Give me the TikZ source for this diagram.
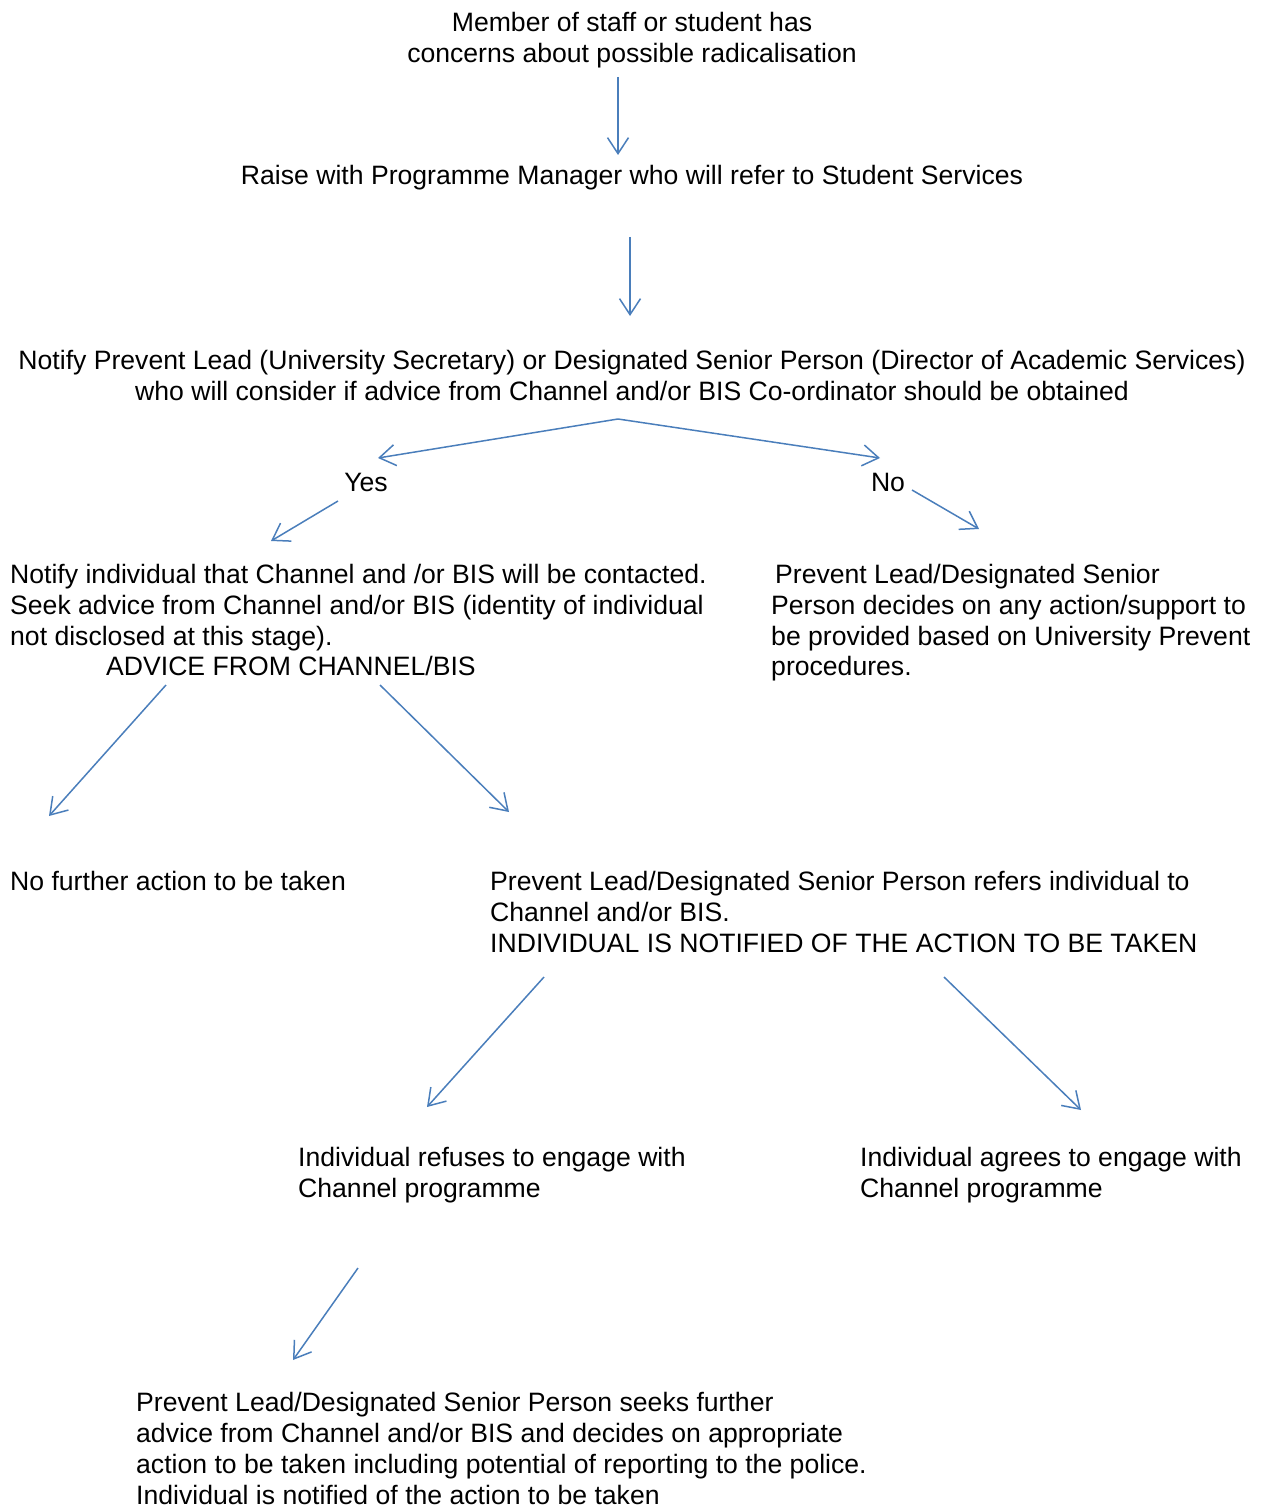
\documentclass[tikz,border=0pt]{standalone}
\usepackage{fontspec}
\setmainfont{Liberation Sans}
\usetikzlibrary{arrows.meta}
\definecolor{arrowblue}{RGB}{74,126,187}
\begin{document}
\begin{tikzpicture}[x=1pt,y=-1pt,
  txt/.style={inner sep=0pt,font=\fontsize{26.6}{30.9}\selectfont},
  blk/.style={txt,align=left,anchor=north west},
  ctr/.style={txt,anchor=base},
  arr/.style={draw=arrowblue,line width=1.5pt,-{Straight Barb[length=16pt,width=21pt,line width=1.5pt]}}]
\useasboundingbox (0,0) rectangle (1266,1506);
% texts
\node[txt,align=center,anchor=north] (t1) at (632,31.5-21.6) {\strut Member of staff or student has\\concerns about possible radicalisation};
\node[ctr] (t2) at (632,185) {Raise with Programme Manager who will refer to Student Services};
\node[txt,align=center,anchor=north] (t3) at (632,369.5-21.6) {\strut Notify Prevent Lead (University Secretary) or Designated Senior Person (Director of Academic Services)\\who will consider if advice from Channel and/or BIS Co-ordinator should be obtained};
\node[ctr] (yes) at (366,491) {Yes};
\node[ctr] (no) at (888,491) {No};
\node[blk] (t4) at (10,583-21.6) {\strut Notify individual that Channel and /or BIS will be contacted.\\Seek advice from Channel and/or BIS (identity of individual\\not disclosed at this stage).\\\hspace*{96pt}ADVICE FROM CHANNEL/BIS};
\node[blk] (t5) at (771,583-21.6) {\strut\hspace*{4pt}Prevent Lead/Designated Senior\\Person decides on any action/support to\\be provided based on University Prevent\\procedures.};
\node[blk] (t6) at (10,890-21.6) {\strut No further action to be taken};
\node[blk] (t7) at (490,890-21.6) {\strut Prevent Lead/Designated Senior Person refers individual to\\Channel and/or BIS.\\INDIVIDUAL IS NOTIFIED OF THE ACTION TO BE TAKEN};
\node[blk] (t8) at (298,1166-21.6) {\strut Individual refuses to engage with\\Channel programme};
\node[blk] (t9) at (860,1166-21.6) {\strut Individual agrees to engage with\\Channel programme};
\node[blk] (t10) at (136,1411.5-21.6) {\strut Prevent Lead/Designated Senior Person seeks further\\advice from Channel and/or BIS and decides on appropriate\\action to be taken including potential of reporting to the police.\\Individual is notified of the action to be taken};
% connector end points
\coordinate (a1s) at (618,77);   \coordinate (a1e) at (618,155);
\coordinate (a2s) at (630,237);  \coordinate (a2e) at (630,316);
\coordinate (apex) at (618,419);
\coordinate (byes) at (378,458); \coordinate (bno) at (880,458);
\coordinate (a3s) at (338,501);  \coordinate (a3e) at (271,541);
\coordinate (a4s) at (912,490);  \coordinate (a4e) at (979,529);
\coordinate (a5s) at (166,685);  \coordinate (a5e) at (49,816);
\coordinate (a6s) at (380,685);  \coordinate (a6e) at (509,812);
\coordinate (a7s) at (544,977);  \coordinate (a7e) at (427,1107);
\coordinate (a8s) at (944,977);  \coordinate (a8e) at (1081,1110);
\coordinate (a9s) at (358,1268); \coordinate (a9e) at (293,1360);
% connectors
\draw[arr] (a1s) -- (a1e);
\draw[arr] (a2s) -- (a2e);
\draw[arr] (apex) -- (byes);
\draw[arr] (apex) -- (bno);
\draw[arr] (a3s) -- (a3e);
\draw[arr] (a4s) -- (a4e);
\draw[arr] (a5s) -- (a5e);
\draw[arr] (a6s) -- (a6e);
\draw[arr] (a7s) -- (a7e);
\draw[arr] (a8s) -- (a8e);
\draw[arr] (a9s) -- (a9e);
\end{tikzpicture}
\end{document}
